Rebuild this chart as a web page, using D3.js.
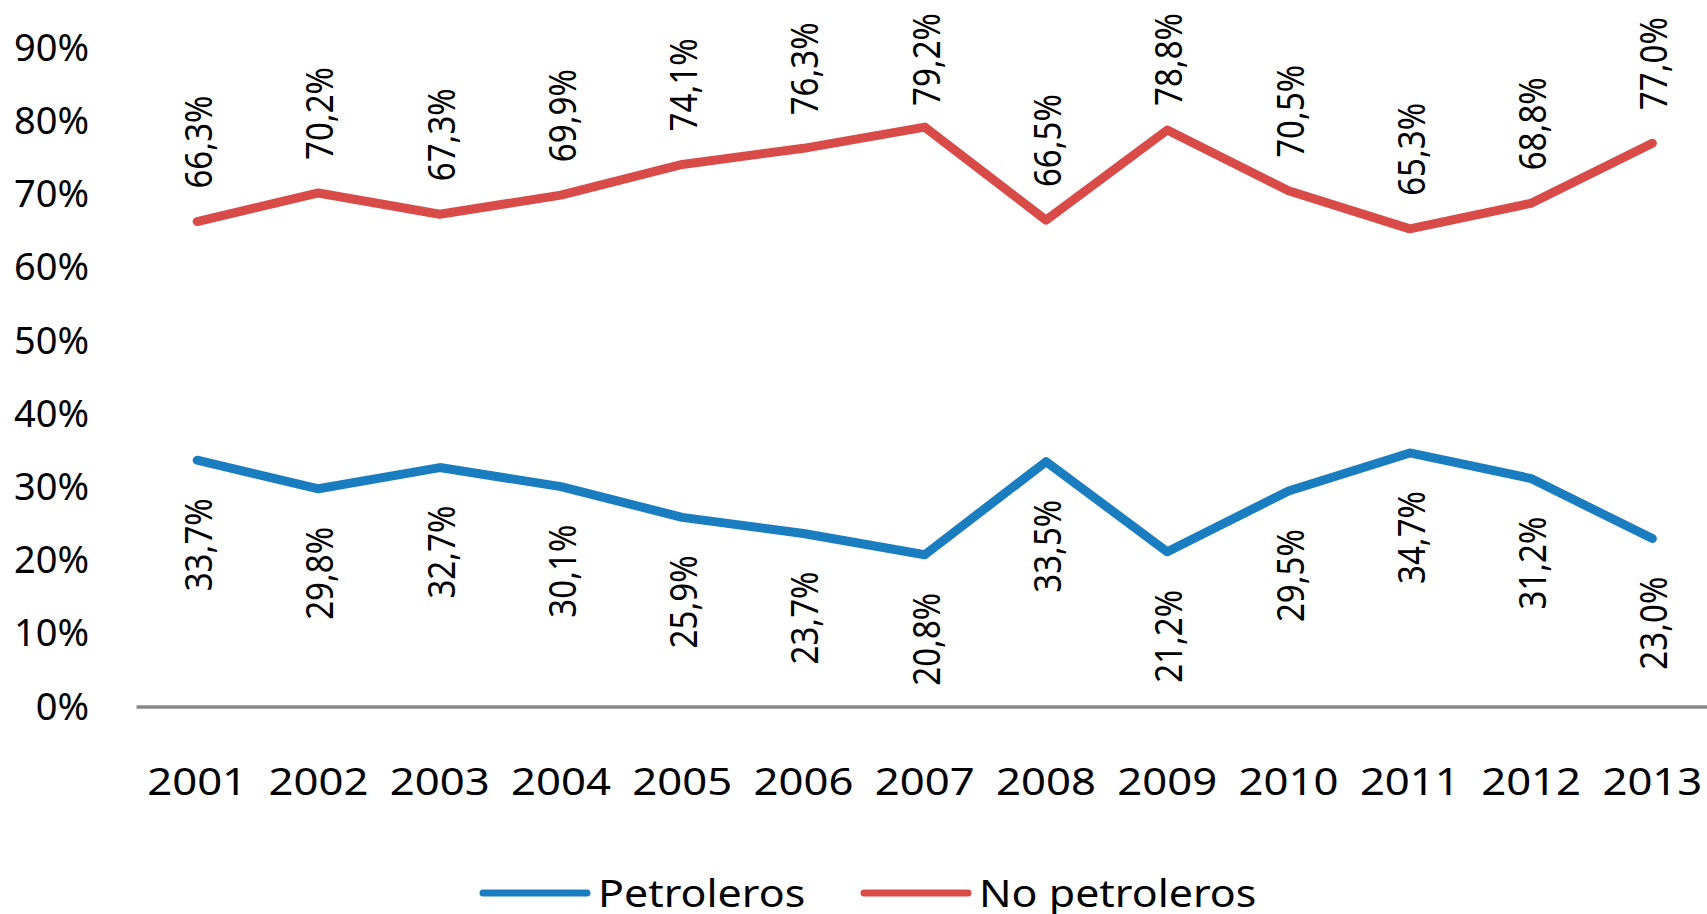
<!DOCTYPE html>
<html>
<head>
<meta charset="utf-8">
<script src="https://cdn.jsdelivr.net/npm/d3@7"></script>
<style>
  body { margin: 0; background: #fff; }
  svg { display: block; font-family: 'Noto Sans', sans-serif; }
</style>
</head>
<body>
<svg></svg>
<script>
let years = ['2001', '2002', '2003', '2004', '2005', '2006', '2007', '2008', '2009', '2010', '2011', '2012', '2013']
let petroleros = [33.7, 29.8, 32.7, 30.1, 25.9, 23.7, 20.8, 33.5, 21.2, 29.5, 34.7, 31.2, 23.0]
let noPetroleros = [66.3, 70.2, 67.3, 69.9, 74.1, 76.3, 79.2, 66.5, 78.8, 70.5, 65.3, 68.8, 77.0]
let yTicks = [0, 10, 20, 30, 40, 50, 60, 70, 80, 90]
let seriesNames = ['Petroleros', 'No petroleros']

let svgWidth = 1707
let svgHeight = 914
let blue = '#1a7dc0'
let red = '#d94b48'

let locale = d3.formatLocale({ decimal: ',', thousands: '.', grouping: [3], currency: ['', ''] })
let fmt = locale.format('.1f')

let svg = d3.select('svg')
    .attr('width', svgWidth)
    .attr('height', svgHeight)

/* scales */
let xScale = d3.scaleBand()
    .domain(years)
    .range([136.5, 1713])

let yScale = d3.scaleLinear()
    .domain([0, 90])
    .range([707, 48])

let cx = d => xScale(d) + xScale.bandwidth() / 2

/* y axis labels */
let yAxis = svg.append('g')
    .attr('transform', 'translate(92, 0)')
    .call(d3.axisLeft(yScale).tickValues(yTicks).tickSize(0).tickPadding(3).tickFormat(d => d + '%'))
yAxis.select('.domain').remove()
yAxis.selectAll('text')
    .attr('font-family', 'Noto Sans')
    .attr('font-size', 38)
    .attr('fill', '#000')

/* x axis labels */
let xAxis = svg.append('g')
    .attr('transform', `translate(0, ${yScale(0)})`)
    .call(d3.axisBottom(xScale).tickSize(0).tickPadding(60))
xAxis.select('.domain').remove()
xAxis.selectAll('text')
    .attr('font-family', 'Noto Sans')
    .attr('font-size', 39)
    .attr('fill', '#000')
    .attr('transform', 'scale(1.12, 1)')

/* baseline */
svg.append('line')
    .attr('x1', xScale.range()[0])
    .attr('x2', svgWidth)
    .attr('y1', yScale(0))
    .attr('y2', yScale(0))
    .attr('stroke', '#888')
    .attr('stroke-width', 3.3)

/* lines */
let line = d3.line()
    .x((d, i) => cx(years[i]))
    .y(d => yScale(d))

let series = [
  { values: noPetroleros, color: red, above: true },
  { values: petroleros, color: blue, above: false }
]

series.forEach(s => {
  svg.append('path')
      .datum(s.values)
      .attr('d', line)
      .attr('fill', 'none')
      .attr('stroke', s.color)
      .attr('stroke-width', 9)
      .attr('stroke-linejoin', 'round')
      .attr('stroke-linecap', 'round')
})

/* data labels (rotated) */
let labelLen = 93
series.forEach(s => {
  svg.append('g')
    .selectAll('text')
    .data(s.values)
    .enter()
    .append('text')
      .attr('transform', (d, i) => {
        let x = cx(years[i])
        let y
        if (s.above) {
          y = yScale(d) - 33
          if (y - labelLen < 13) y = 13 + labelLen
        } else {
          y = yScale(d) + 38
        }
        return `translate(${x}, ${y}) rotate(-90) scale(0.87, 1)`
      })
      .attr('dy', 15)
      .attr('text-anchor', s.above ? 'start' : 'end')
      .attr('font-size', 38)
      .attr('fill', '#000')
      .text(d => fmt(d) + '%')
})

/* legend */
let legendItems = [
  { name: seriesNames[0], color: blue, x: 483 },
  { name: seriesNames[1], color: red, x: 864 }
]
let legend = svg.append('g')
legendItems.forEach(item => {
  legend.append('line')
      .attr('x1', item.x)
      .attr('x2', item.x + 104)
      .attr('y1', 893)
      .attr('y2', 893)
      .attr('stroke', item.color)
      .attr('stroke-width', 7)
      .attr('stroke-linecap', 'round')
  legend.append('text')
      .attr('transform', `translate(${item.x + 115}, 907) scale(1.13, 1)`)
      .attr('font-size', 38)
      .attr('fill', '#000')
      .text(item.name)
})
</script>
</body>
</html>
